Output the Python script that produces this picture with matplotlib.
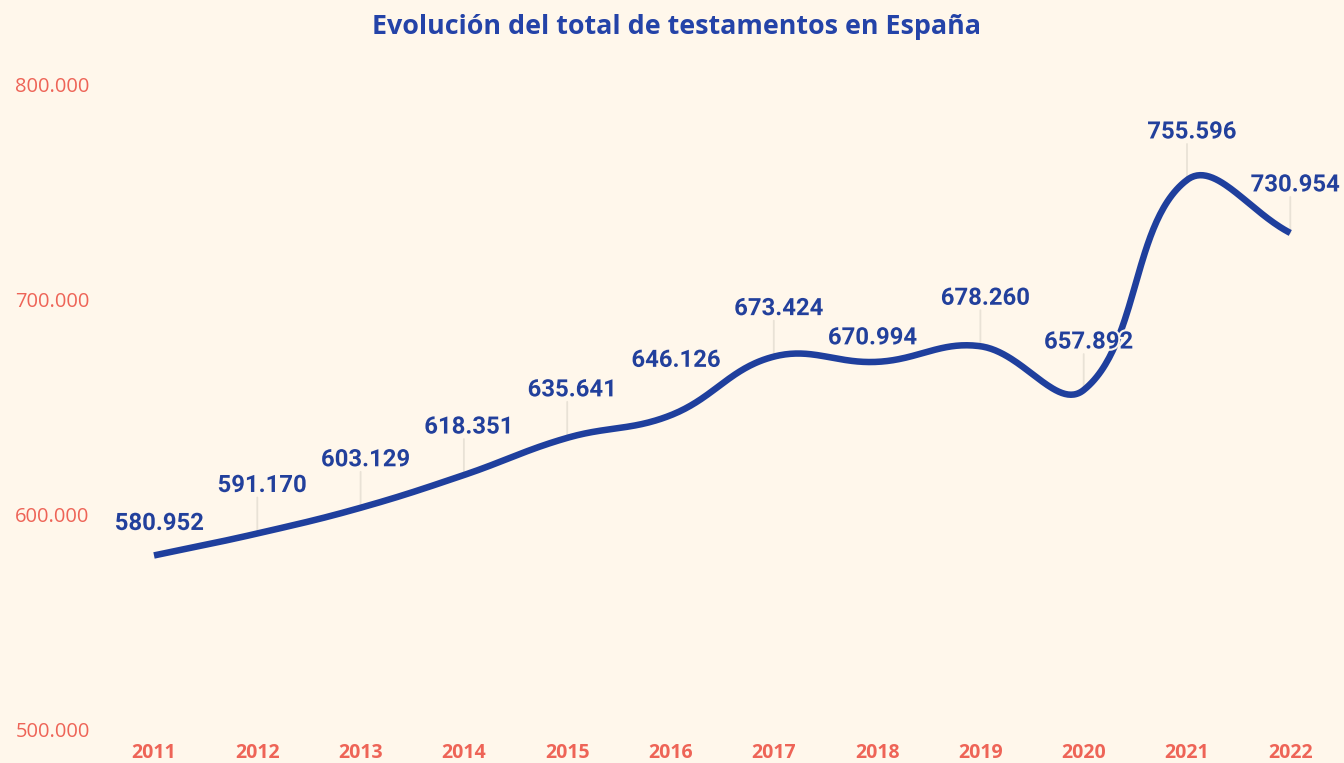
import numpy as np
import matplotlib
matplotlib.use("Agg")
import matplotlib.pyplot as plt
import matplotlib.patheffects as pe

# ---- data ----
years = [2011, 2012, 2013, 2014, 2015, 2016, 2017, 2018, 2019, 2020, 2021, 2022]
values = [580952, 591170, 603129, 618351, 635641, 646126, 673424, 670994, 678260, 657892, 755596, 730954]
value_labels = ["580.952", "591.170", "603.129", "618.351", "635.641", "646.126",
                "673.424", "670.994", "678.260", "657.892", "755.596", "730.954"]
y_ticks = [500000, 600000, 700000, 800000]
y_tick_labels = ["500.000", "600.000", "700.000", "800.000"]
title = "Evolución del total de testamentos en España"

# ---- style ----
BG = "#FFF7EB"
BLUE = "#1F3F9D"
LABEL_BLUE = "#22409C"
SALMON = "#EE6457"
CONNECTOR = "#E9E2D6"

W, H, DPI = 1344, 763, 100
PT = 72.0 / DPI  # points per pixel
fig = plt.figure(figsize=(W / DPI, H / DPI), dpi=DPI, facecolor=BG)
ax_bottom_px, ax_top_px = 729.5, 84.5
ax = fig.add_axes([0, (H - ax_bottom_px) / H, 1, (ax_bottom_px - ax_top_px) / H])
ax.set_facecolor(BG)

px_per_year = 103.3
x0_px = 154.0
ax.set_xlim(2011 - x0_px / px_per_year, 2011 + (W - x0_px) / px_per_year)
ax.set_ylim(500000, 800000)

# smooth curve (Chart.js-like spline, tension 0.4) computed in pixel-like space
sx = px_per_year
sy = (ax_bottom_px - ax_top_px) / 300000.0
P = np.column_stack([np.array(years, float) * sx, np.array(values, float) * sy])
n = len(P)
tension = 0.4
cp_prev = np.zeros_like(P)
cp_next = np.zeros_like(P)
for i in range(n):
    prev = P[i - 1] if i > 0 else P[i]
    nxt = P[i + 1] if i < n - 1 else P[i]
    d01 = np.hypot(*(P[i] - prev))
    d12 = np.hypot(*(nxt - P[i]))
    tot = d01 + d12
    s01 = d01 / tot if tot else 0
    s12 = d12 / tot if tot else 0
    cp_prev[i] = P[i] - tension * s01 * (nxt - prev)
    cp_next[i] = P[i] + tension * s12 * (nxt - prev)
curve = []
t = np.linspace(0, 1, 60)[:, None]
for i in range(n - 1):
    a, b, c, d = P[i], cp_next[i], cp_prev[i + 1], P[i + 1]
    seg = (1 - t) ** 3 * a + 3 * (1 - t) ** 2 * t * b + 3 * (1 - t) * t ** 2 * c + t ** 3 * d
    curve.append(seg if i == 0 else seg[1:])
curve = np.vstack(curve)
ax.plot(curve[:, 0] / sx, curve[:, 1] / sy, color=BLUE, lw=4.7, solid_capstyle="butt",
        zorder=3, clip_on=False)

# label placement (pixels): default offset, and a few labels moved to avoid overlaps
default_off = (5, 48)
moved = {0: (5.5, 32), 5: (5.5, 55), 7: (-4.5, 24)}

for i, (x, v, lab) in enumerate(zip(years, values, value_labels)):
    dx, dy = moved.get(i, default_off)
    if i not in moved:
        ax.annotate("", xy=(x, v), xytext=(0, (dy - 12) * PT), textcoords="offset points",
                    arrowprops=dict(arrowstyle="-", color=CONNECTOR, lw=1.3,
                                    shrinkA=0, shrinkB=0),
                    zorder=1, annotation_clip=False)
    ax.annotate(lab, xy=(x, v), xytext=(dx * PT, dy * PT), textcoords="offset points",
                ha="center", va="center", fontsize=17.2, fontweight="bold",
                family=["Roboto", "DejaVu Sans"], color=LABEL_BLUE, zorder=4,
                annotation_clip=False,
                path_effects=[pe.withStroke(linewidth=3, foreground=BG)])

# axes styling
for s in ax.spines.values():
    s.set_visible(False)
ax.set_yticks(y_ticks)
ax.set_yticklabels(y_tick_labels, fontsize=14.5, color=SALMON,
                   family=["Open Sans", "DejaVu Sans"], ha="left")
ax.tick_params(axis="y", length=0, pad=-11)
ax.set_xticks(years)
ax.set_xticklabels([str(y) for y in years], fontsize=14, fontweight="bold",
                   color=SALMON, family=["Open Sans", "DejaVu Sans"])
ax.tick_params(axis="x", length=0, pad=10)

fig.text(676 / W, 1 - 27 / H, title, ha="center", va="center", fontsize=19.4,
         fontweight="bold", color="#2443A8", family=["Open Sans", "DejaVu Sans"])

fig.savefig("out.png", dpi=DPI, facecolor=BG)
